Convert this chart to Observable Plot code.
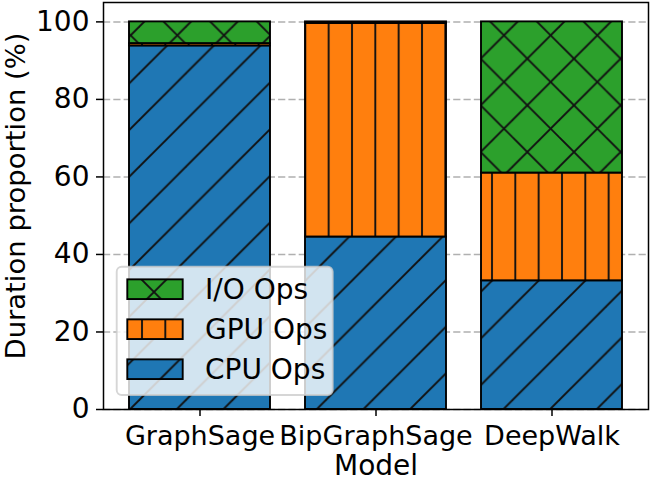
<!DOCTYPE html>
<html>
<head>
<meta charset="utf-8">
<script src="https://cdn.jsdelivr.net/npm/d3@7"></script>
<script src="https://cdn.jsdelivr.net/npm/@observablehq/plot@0.6"></script>
<style>
  html, body { margin: 0; padding: 0; background: white; }
  svg { display: block; }
</style>
</head>
<body>
<div id="chart"></div>
<script>
// ---- data ----
const models = ["GraphSage", "BipGraphSage", "DeepWalk"];
const series = ["CPU Ops", "GPU Ops", "I/O Ops"];
const cpuOps = [93.8, 44.5, 33.2];
const gpuOps = [0.6, 55.1, 27.8];
const ioOps  = [5.6, 0.4, 39.0];
const yTicks = [0, 20, 40, 60, 80, 100];
const xLabel = "Model";
const yLabel = "Duration proportion (%)";

const seriesValues = {"CPU Ops": cpuOps, "GPU Ops": gpuOps, "I/O Ops": ioOps};
const table = [];
models.forEach((m, i) => series.forEach(s => table.push({model: m, op: s, value: seriesValues[s][i]})));

const baseColor = {"CPU Ops": "#1f77b4", "GPU Ops": "#ff7f0e", "I/O Ops": "#2ca02c"};
const patId = {"CPU Ops": "hatch-cpu", "GPU Ops": "hatch-gpu", "I/O Ops": "hatch-io"};
const FS = 28;

const chart = Plot.plot({
  width: 651,
  height: 482,
  marginLeft: 103,
  marginRight: 3,
  marginTop: 2,
  marginBottom: 73,
  style: {fontFamily: "DejaVu Sans", fontSize: FS + "px", background: "white", color: "black", overflow: "visible"},
  x: {domain: models, paddingInner: 0.2, paddingOuter: 0.14, label: null},
  y: {domain: [0, 105], label: null},
  color: {domain: series, range: series.map(s => `url(#${patId[s]})`)},
  marks: [
    Plot.gridY(yTicks, {stroke: "#b0b0b0", strokeOpacity: 1, strokeWidth: 1.5, strokeDasharray: "7.2,3.1"}),
    Plot.barY(table, {x: "model", y: "value", fill: "op", stroke: "black", strokeWidth: 1.9}),
    Plot.axisY(yTicks, {label: null, tickSize: 7, tickPadding: 7, strokeWidth: 1.5, fontSize: FS}),
    Plot.axisX({label: null, tickSize: 7, tickPadding: 9, strokeWidth: 1.5, fontSize: 27}),
    Plot.frame({stroke: "black", strokeWidth: 1.5}),
    Plot.text([yLabel], {frameAnchor: "left", rotate: -90, dx: -87, dy: -10, textAnchor: "middle", lineAnchor: "middle", fontSize: FS * 0.98}),
    Plot.text([xLabel], {frameAnchor: "bottom", dy: 57, textAnchor: "middle", lineAnchor: "middle", fontSize: FS})
  ]
});

document.getElementById("chart").appendChild(chart);

// ---- hatch patterns (matplotlib-like: '/', '|', 'x') ----
const svg = d3.select(chart);
const defs = svg.insert("defs", ":first-child");
const S = 46.667, V = 23.333, C = 26, D = 2, E = 2;
const hatchStroke = "#111", hatchW = 1.9;

function diagUp(p, c) { // lines x + y = c (mod S)
  for (let k = -2; k <= 3; k++) {
    const cc = c + k * S;
    p.append("line").attr("x1", -S).attr("y1", cc + S).attr("x2", 2 * S).attr("y2", cc - 2 * S)
      .attr("stroke", hatchStroke).attr("stroke-width", hatchW);
  }
}
function diagDown(p, d) { // lines x - y = d (mod S)
  for (let k = -2; k <= 3; k++) {
    const dd = d + k * S;
    p.append("line").attr("x1", -S).attr("y1", -S - dd).attr("x2", 2 * S).attr("y2", 2 * S - dd)
      .attr("stroke", hatchStroke).attr("stroke-width", hatchW);
  }
}
{
  const p = defs.append("pattern").attr("id", patId["CPU Ops"]).attr("patternUnits", "userSpaceOnUse")
    .attr("width", S).attr("height", S);
  p.append("rect").attr("width", S).attr("height", S).attr("fill", baseColor["CPU Ops"]);
  diagUp(p, C);
}
{
  const p = defs.append("pattern").attr("id", patId["GPU Ops"]).attr("patternUnits", "userSpaceOnUse")
    .attr("width", V).attr("height", V);
  p.append("rect").attr("width", V).attr("height", V).attr("fill", baseColor["GPU Ops"]);
  for (let k = -1; k <= 1; k++) {
    p.append("line").attr("x1", E + k * V).attr("x2", E + k * V).attr("y1", -1).attr("y2", V + 1)
      .attr("stroke", hatchStroke).attr("stroke-width", hatchW);
  }
}
{
  const p = defs.append("pattern").attr("id", patId["I/O Ops"]).attr("patternUnits", "userSpaceOnUse")
    .attr("width", S).attr("height", S);
  p.append("rect").attr("width", S).attr("height", S).attr("fill", baseColor["I/O Ops"]);
  diagUp(p, C);
  diagDown(p, D);
}

// ---- legend (inside the axes, lower left) ----
const lg = svg.append("g").attr("font-family", "DejaVu Sans").attr("font-size", FS).attr("text-anchor", "start");
lg.append("rect").attr("x", 116.7).attr("y", 266.7).attr("width", 216).attr("height", 128.3)
  .attr("rx", 5).attr("fill", "white").attr("fill-opacity", 0.8)
  .attr("stroke", "#cccccc").attr("stroke-opacity", 0.8).attr("stroke-width", 1.9);
const legendOrder = series.slice().reverse();
legendOrder.forEach((s, i) => {
  const cy = 289.2 + i * 40;
  lg.append("rect").attr("x", 127.3).attr("y", cy - 9.85).attr("width", 55.4).attr("height", 19.7)
    .attr("fill", `url(#${patId[s]})`).attr("stroke", "black").attr("stroke-width", 1.9);
  lg.append("text").attr("x", 205).attr("y", cy + 10.2).attr("fill", "black").attr("text-anchor", "start").text(s);
});
</script>
</body>
</html>
